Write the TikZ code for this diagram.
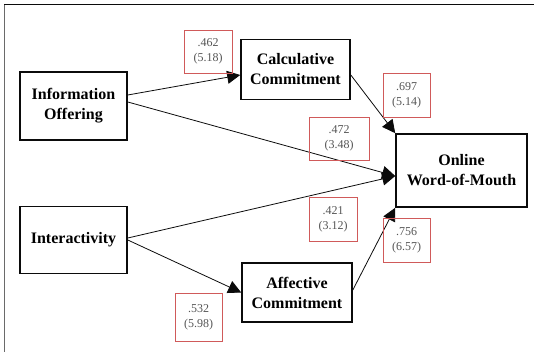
\documentclass[tikz,border=0pt]{standalone}
\usepackage{fontspec}
\setmainfont{Liberation Serif}
\usetikzlibrary{arrows.meta}
\definecolor{ink}{HTML}{0B0B0B}
\definecolor{coefred}{HTML}{D05A5A}
\definecolor{coefgray}{HTML}{555555}
\definecolor{framegray}{HTML}{6A6A6A}

\begin{document}
\begin{tikzpicture}[x=1pt,y=-1pt,
  construct/.style={draw=ink,line width=1.6pt,align=center,inner sep=0pt,
    font=\fontsize{16}{20}\selectfont\bfseries},
  coef/.style={draw=coefred,line width=0.6pt,align=center,inner sep=0pt,
    minimum width=47pt,minimum height=44pt,text=coefgray,
    font=\fontsize{12}{15}\selectfont},
  link/.style={draw=ink,line width=0.8pt,-{Triangle[length=13pt,width=13pt]}}]
  \useasboundingbox (0,0) rectangle (534,352);
  % frame
  \draw[framegray,line width=1.3pt] (4.5,4) -- (4.5,352);
  \draw[ink,line width=1.6pt] (4,4.5) -- (534,4.5);
  % constructs
  \node[construct,minimum width=107pt,minimum height=68pt] (info) at (73.5,106)
       {Information\\Offering};
  \node[construct,minimum width=107pt,minimum height=67pt] (inter) at (73.5,240)
       {Interactivity};
  \node[construct,minimum width=109pt,minimum height=60pt] (calc) at (295.5,69.5)
       {Calculative\\Commitment};
  \node[construct,minimum width=110pt,minimum height=59pt] (aff) at (297,292.5)
       {Affective\\Commitment};
  \node[construct,minimum width=131pt,minimum height=73pt] (wom) at (461.5,170.5)
       {Online\\Word-of-Mouth};
  % paths
  \draw[link] ([yshift=11pt]info.east) -- ([yshift=-5.5pt]calc.west);
  \draw[link] ([yshift=4pt]info.east) -- ([yshift=-5.5pt]wom.west);
  \draw[link] ([yshift=2pt]inter.east) -- ([yshift=-5.5pt]wom.west);
  \draw[link] (inter.east) -- (aff.west);
  \draw[link] ([yshift=-5.5pt]calc.east) -- (wom.north west);
  \draw[link] ([yshift=2.5pt]aff.east) -- (wom.south west);
  % coefficients
  \node[coef,minimum width=48pt,minimum height=43pt] (c1) at (208,51.5) {.462\\(5.18)};
  \node[coef] (c2) at (406.5,95) {.697\\(5.14)};
  \node[coef,minimum width=60pt,minimum height=43pt] (c3) at (339,138.5) {.472\\(3.48)};
  \node[coef,minimum width=48pt] (c4) at (333,219) {.421\\(3.12)};
  \node[coef] (c5) at (406.5,240) {.756\\(6.57)};
  \node[coef,minimum height=48pt] (c6) at (198.5,317) {.532\\(5.98)};
\end{tikzpicture}
\end{document}
